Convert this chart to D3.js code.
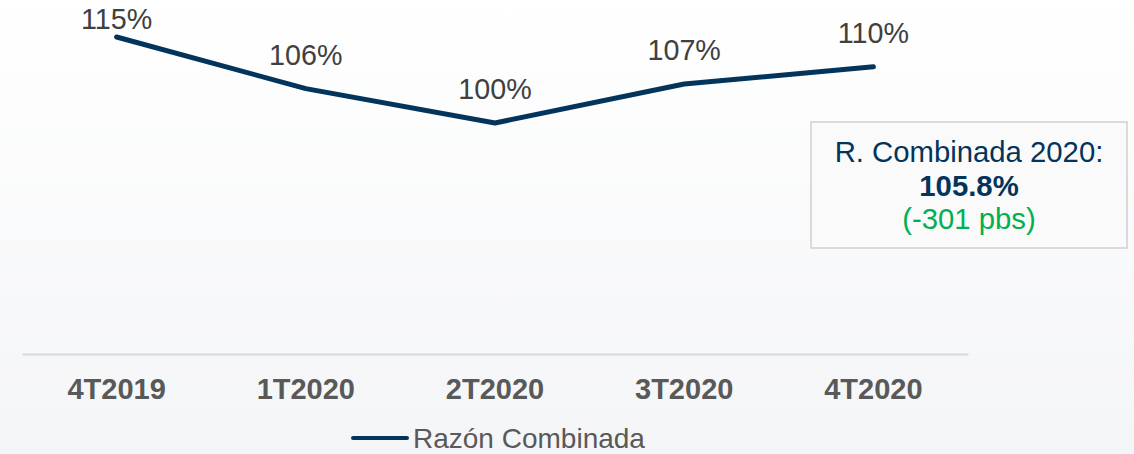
<!DOCTYPE html>
<html>
<head>
<meta charset="utf-8">
<script src="https://cdn.jsdelivr.net/npm/d3@7"></script>
<style>
  html, body { margin: 0; padding: 0; }
  body { width: 1134px; height: 454px; overflow: hidden; font-family: "Liberation Sans", Arial, sans-serif; }
</style>
</head>
<body>
<svg class="vis" width="1134" height="454"></svg>
<script>
// datos
const trimestres = ["4T2019", "1T2020", "2T2020", "3T2020", "4T2020"];
const razon_combinada = [115.0, 106.0, 100.0, 106.8, 109.8];
const serie_nombre = "Razón Combinada";
const recuadro_lineas = ["R. Combinada 2020:", "105.8%", "(-301 pbs)"];

const azul = "#03345c";
const gris_texto = "#404040";
const gris_eje = "#595959";

const svg = d3.select("svg.vis");

// fondo con degradado
const defs = svg.append("defs");
const grad = defs.append("linearGradient")
    .attr("id", "fondo")
    .attr("x1", 0).attr("y1", 0).attr("x2", 0).attr("y2", 1);
grad.append("stop").attr("offset", "0%").attr("stop-color", "#ffffff");
grad.append("stop").attr("offset", "100%").attr("stop-color", "#f4f5f7");

svg.append("rect")
    .attr("width", 1134).attr("height", 454)
    .attr("fill", "url(#fondo)");

// escalas
const x = d3.scaleBand()
    .domain(trimestres)
    .range([22, 968]);

const y = d3.scaleLinear()
    .domain([100, 115])
    .range([123, 37]);

const cx = d => x(d) + x.bandwidth() / 2;

// eje x
const eje_x = d3.axisBottom(x).tickSize(0).tickPadding(0);
const $eje_x = svg.append("g")
    .attr("class", "axis x-axis")
    .attr("transform", "translate(0,354)")
    .call(eje_x);

$eje_x.select(".domain")
    .attr("stroke", "#d9d9d9")
    .attr("stroke-width", 2);

$eje_x.selectAll("text")
    .attr("dy", null)
    .attr("y", 45)
    .attr("fill", gris_eje)
    .attr("font-family", "Liberation Sans, Arial, sans-serif")
    .attr("font-size", 29)
    .attr("font-weight", "bold");

// linea
const datos = trimestres.map((t, i) => ({ t: t, v: razon_combinada[i] }));

const linea = d3.line()
    .x(d => cx(d.t))
    .y(d => y(d.v));

svg.append("path")
    .datum(datos)
    .attr("d", linea)
    .attr("fill", "none")
    .attr("stroke", azul)
    .attr("stroke-width", 5)
    .attr("stroke-linecap", "round")
    .attr("stroke-linejoin", "round");

// etiquetas de valores
const fmt = d3.format(".0f");
svg.selectAll("text.valor")
    .data(datos)
    .enter()
    .append("text")
    .attr("class", "valor")
    .attr("x", d => cx(d.t))
    .attr("y", d => Math.max(y(d.v) - 24, 29))
    .attr("text-anchor", "middle")
    .attr("fill", gris_texto)
    .attr("font-size", 28.7)
    .text(d => fmt(d.v) + "%");

// recuadro
const caja = svg.append("g").attr("transform", "translate(811,122)");
caja.append("rect")
    .attr("width", 316).attr("height", 126)
    .attr("fill", "#fafafa")
    .attr("stroke", "#d0d0d0")
    .attr("stroke-width", 1.5);

const estilos = [
    { y: 40, peso: "normal", color: azul },
    { y: 74, peso: "bold", color: azul },
    { y: 107, peso: "normal", color: "#00b050" }
];
caja.selectAll("text")
    .data(recuadro_lineas)
    .enter()
    .append("text")
    .attr("x", 158)
    .attr("y", (d, i) => estilos[i].y)
    .attr("text-anchor", "middle")
    .attr("font-size", 29.3)
    .attr("font-weight", (d, i) => estilos[i].peso)
    .attr("fill", (d, i) => estilos[i].color)
    .text(d => d);

// leyenda
const leyenda = svg.append("g").attr("transform", "translate(353,438)");
leyenda.append("line")
    .attr("x1", 0).attr("x2", 54)
    .attr("y1", 0).attr("y2", 0)
    .attr("stroke", azul)
    .attr("stroke-width", 4)
    .attr("stroke-linecap", "round");
leyenda.append("text")
    .attr("x", 60)
    .attr("y", 10)
    .attr("fill", gris_eje)
    .attr("font-size", 28)
    .text(serie_nombre);
</script>
</body>
</html>
